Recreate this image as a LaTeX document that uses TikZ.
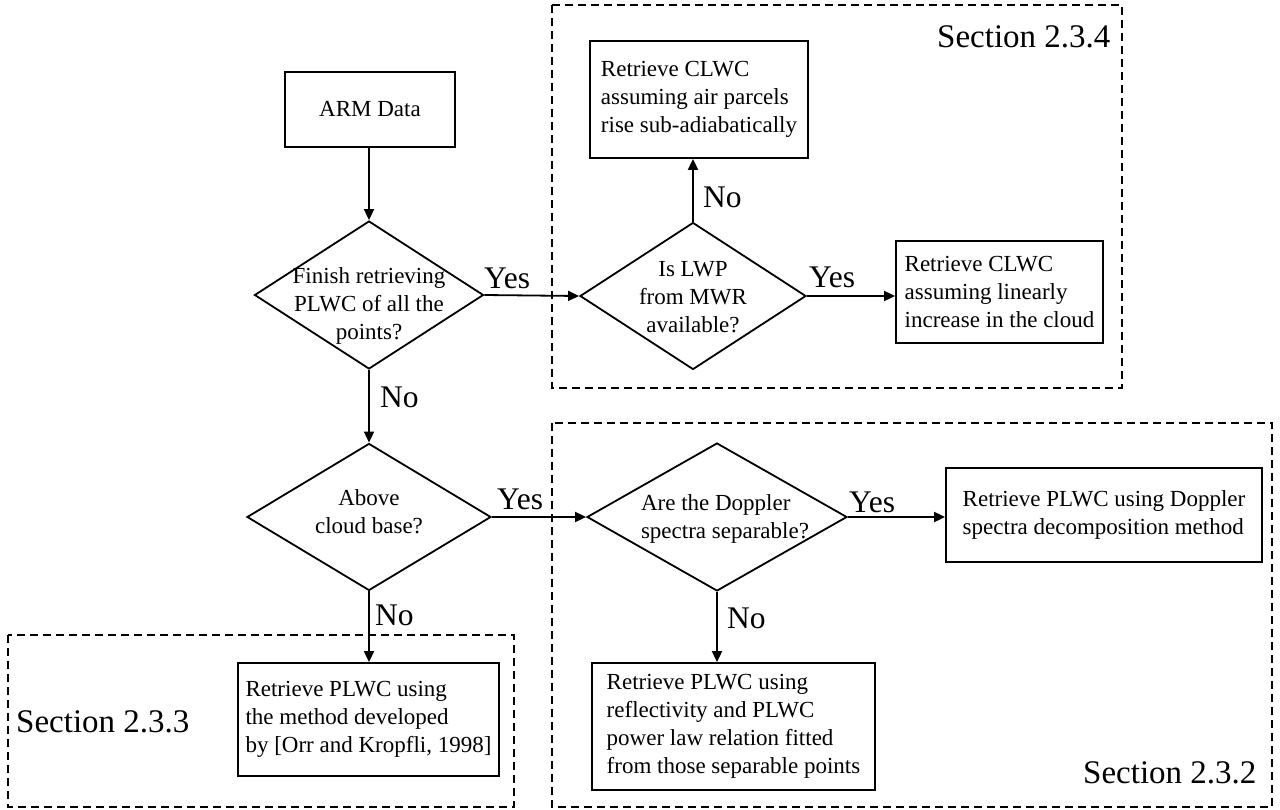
\documentclass[tikz,border=0pt]{standalone}
\usepackage{fontspec}
\setmainfont{Liberation Serif}
\usetikzlibrary{arrows.meta,shapes.geometric}
\begin{document}
\begin{tikzpicture}[x=1pt,y=-1pt,
 box/.style={draw,line width=1.8pt,rectangle,inner sep=0pt,align=left,font=\fontsize{23}{28}\selectfont},
 dec/.style={draw,line width=1.8pt,diamond,inner sep=0pt},
 dtext/.style={inner sep=0pt,align=center,font=\fontsize{23}{28}\selectfont},
 lab/.style={inner sep=0pt,font=\fontsize{31.5}{36}\selectfont,anchor=base west},
 sec/.style={inner sep=0pt,font=\fontsize{33}{40}\selectfont,anchor=base west},
 sect/.style={draw,line width=1.8pt,dash pattern=on 8pt off 5pt},
 arr/.style={line width=1.8pt,-{Triangle[length=11pt,width=10pt]}}
]
\useasboundingbox[fill=white] (0,0) rectangle (1280,809);

% section frames
\draw[sect] (552,5) rectangle (1122,388);
\draw[sect] (552,423) rectangle (1272,807);
\draw[sect] (8,635) rectangle (514,807);

% boxes
\node[box,minimum width=170pt,minimum height=75pt] (arm) at (370,109.5) {ARM Data};
\node[box,minimum width=218pt,minimum height=117pt] (sub) at (699,99.5) {Retrieve CLWC\\assuming air parcels\\rise sub-adiabatically};
\node[box,minimum width=207pt,minimum height=102pt] (lin) at (999.5,292) {Retrieve CLWC\\assuming linearly\\increase in the cloud};
\node[box,minimum width=316pt,minimum height=94pt] (dop) at (1104,515) {Retrieve PLWC using Doppler\\spectra decomposition method};
\node[box,minimum width=283pt,minimum height=127pt] (refl) at (733.5,726.5) {Retrieve PLWC using\\reflectivity and PLWC\\power law relation fitted\\from those separable points};
\node[box,minimum width=261pt,minimum height=113pt] (orr) at (368.5,719.5) {Retrieve PLWC using\\the method developed\\by [Orr and Kropfli, 1998]};

% decisions
\node[dec,minimum width=229pt,minimum height=148pt] (fin) at (369,295) {};
\node[dec,minimum width=226pt,minimum height=147pt] (lwp) at (693,296) {};
\node[dec,minimum width=244pt,minimum height=147pt] (abv) at (369,517) {};
\node[dec,minimum width=260pt,minimum height=148pt] (spc) at (717,517) {};

\node[dtext] (fint) at (369,306) {Finish retrieving\\PLWC of all the\\points?};
\node[dtext] (lwpt) at (693,297) {Is LWP\\from MWR\\available?};
\node[dtext] (abvt) at (369,512) {Above\\cloud base?};
\node[dtext,align=left] (spct) at (725,519) {Are the Doppler\\spectra separable?};

% connectors
\draw[arr] (arm.south -| fin.north) -- (fin.north);
\draw[arr] (fin.east) -- (lwp.west);
\draw[arr] (lwp.north) -- (lwp.north |- sub.south);
\draw[arr] (lwp.east) -- (lwp.east -| lin.west);
\draw[arr] (fin.south) -- (abv.north);
\draw[arr] (abv.east) -- (spc.west);
\draw[arr] (spc.east) -- (spc.east -| dop.west);
\draw[arr] (spc.south) -- (spc.south |- refl.north);
\draw[arr] (abv.south) -- (abv.south |- orr.north);

% labels
\node[lab] (y1) at (484,288) {Yes};
\node[lab] (y2) at (809,287) {Yes};
\node[lab] (y3) at (497,509) {Yes};
\node[lab] (y4) at (849,512) {Yes};
\node[lab] (n1) at (380,407) {No};
\node[lab] (n2) at (703,207) {No};
\node[lab] (n3) at (375,625) {No};
\node[lab] (n4) at (727,628) {No};

\node[sec] (s4) at (937,47) {Section 2.3.4};
\node[sec] (s3) at (16,732) {Section 2.3.3};
\node[sec] (s2) at (1083,783) {Section 2.3.2};
\end{tikzpicture}
\end{document}
